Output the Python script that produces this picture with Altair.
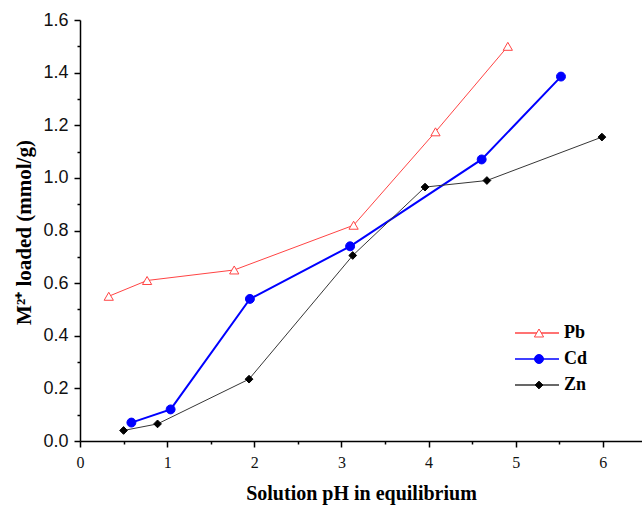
import altair as alt
import pandas as pd

# Metal uptake vs. equilibrium pH
metals = ["Pb", "Cd", "Zn"]

pb_ph = [0.33, 0.77, 1.77, 3.14, 4.08, 4.91]
pb_load = [0.55, 0.61, 0.65, 0.82, 1.175, 1.50]

cd_ph = [0.59, 1.04, 1.95, 3.10, 4.61, 5.52]
cd_load = [0.07, 0.12, 0.54, 0.74, 1.07, 1.385]

zn_ph = [0.50, 0.89, 1.94, 3.13, 3.96, 4.67, 5.99]
zn_load = [0.04, 0.065, 0.235, 0.705, 0.965, 0.99, 1.155]

x_ticks = [0, 0.5, 1, 1.5, 2, 2.5, 3, 3.5, 4, 4.5, 5, 5.5, 6]
y_ticks = [0, 0.1, 0.2, 0.3, 0.4, 0.5, 0.6, 0.7, 0.8, 0.9, 1.0,
           1.1, 1.2, 1.3, 1.4, 1.5, 1.6]

line_colors = ["#ff4444", "#0000ff", "#363636"]
marker_shapes = ["triangle-up", "circle", "diamond"]
marker_fill = ["#ffffff", "#0000ff", "#000000"]
marker_stroke = ["#ff4444", "#0000ff", "#000000"]
marker_size = [85, 80, 60]

rows = []
for name, xs, ys in [("Pb", pb_ph, pb_load), ("Cd", cd_ph, cd_load), ("Zn", zn_ph, zn_load)]:
    for x, y in zip(xs, ys):
        rows.append({"metal": name, "series": name, "ph": x, "load": y})
df = pd.DataFrame(rows)

serif = "Liberation Serif"
sans = "Liberation Sans"

x_enc = alt.X(
    "ph:Q",
    scale=alt.Scale(domain=[0, 6.45], nice=False, zero=False),
    axis=alt.Axis(
        title="Solution pH in equilibrium",
        values=x_ticks,
        labelExpr="datum.value % 1 === 0 ? format(datum.value, 'd') : ''",
        tickSize={"condition": {"test": "datum.value % 1 === 0", "value": 6}, "value": 3},
        labelFont=serif, labelFontSize=16, labelColor="#111111", labelPadding=7,
        labelOverlap=False, labelFlush=False,
        titleFont=serif, titleFontSize=20, titleFontWeight="bold", titleColor="#000000",
        titleY=52, titleBaseline="middle",
        domainColor="#000000", domainWidth=1.5, tickColor="#000000", tickWidth=1.5,
        grid=False,
    ),
)

y_enc = alt.Y(
    "load:Q",
    scale=alt.Scale(domain=[0, 1.6], nice=False, zero=True),
    axis=alt.Axis(
        title="M²⁺ loaded (mmol/g)",
        values=y_ticks,
        labelExpr="round(datum.value * 10) % 2 === 0 ? format(datum.value, '.1f') : ''",
        tickSize={"condition": {"test": "round(datum.value * 10) % 2 === 0", "value": 6}, "value": 3},
        labelFont=sans, labelFontSize=18, labelColor="#111111", labelPadding=6,
        labelOverlap=False, labelFlush=False,
        titleFont=serif, titleFontSize=21, titleFontWeight="bold", titleColor="#000000",
        titleX=-56, titleY=212, titleBaseline="middle", titleAlign="center",
        domainColor="#000000", domainWidth=1.5, tickColor="#000000", tickWidth=1.5,
        grid=False,
    ),
)

# Line legend (stroke swatches with labels)
line_legend = alt.Legend(
    title=None, orient="none", legendX=434, legendY=305, padding=0,
    symbolType="stroke", symbolSize=1936, symbolStrokeWidth=1.3,
    clipHeight=16, rowPadding=8,
    labelFont=serif, labelFontSize=18, labelFontWeight="bold", labelColor="#000000",
    labelOffset=4,
)

# Marker legend laid over the middle of the stroke swatches
marker_legend = alt.Legend(
    title=None, orient="none", legendX=450, legendY=305, padding=0,
    clipHeight=16, rowPadding=8, symbolStrokeWidth=1,
    labelFont=serif, labelFontSize=18, labelExpr="''",
)

lines = alt.Chart(df).mark_line().encode(
    x=x_enc,
    y=y_enc,
    color=alt.Color("metal:N", sort=metals,
                    scale=alt.Scale(range=line_colors), legend=line_legend),
    strokeWidth=alt.condition("datum.metal === 'Cd'", alt.value(2), alt.value(1)),
)

points = alt.Chart(df).mark_point(filled=True, strokeWidth=1, opacity=1).encode(
    x=x_enc,
    y=y_enc,
    shape=alt.Shape("series:N", scale=alt.Scale(domain=metals, range=marker_shapes), legend=marker_legend),
    fill=alt.Fill("series:N", scale=alt.Scale(domain=metals, range=marker_fill), legend=marker_legend),
    stroke=alt.Stroke("series:N", scale=alt.Scale(domain=metals, range=marker_stroke), legend=marker_legend),
    size=alt.Size("series:N", scale=alt.Scale(type="ordinal", domain=metals, range=marker_size), legend=marker_legend),
)

chart = alt.layer(lines, points).properties(
    width=562,
    height=421,
    autosize=alt.AutoSizeParams(type="none"),
    padding={"left": 80, "top": 20, "right": 0, "bottom": 65},
    background="#ffffff",
).configure_view(stroke=None)

chart.save("out.html", embed_options={"renderer": "svg", "actions": False})
